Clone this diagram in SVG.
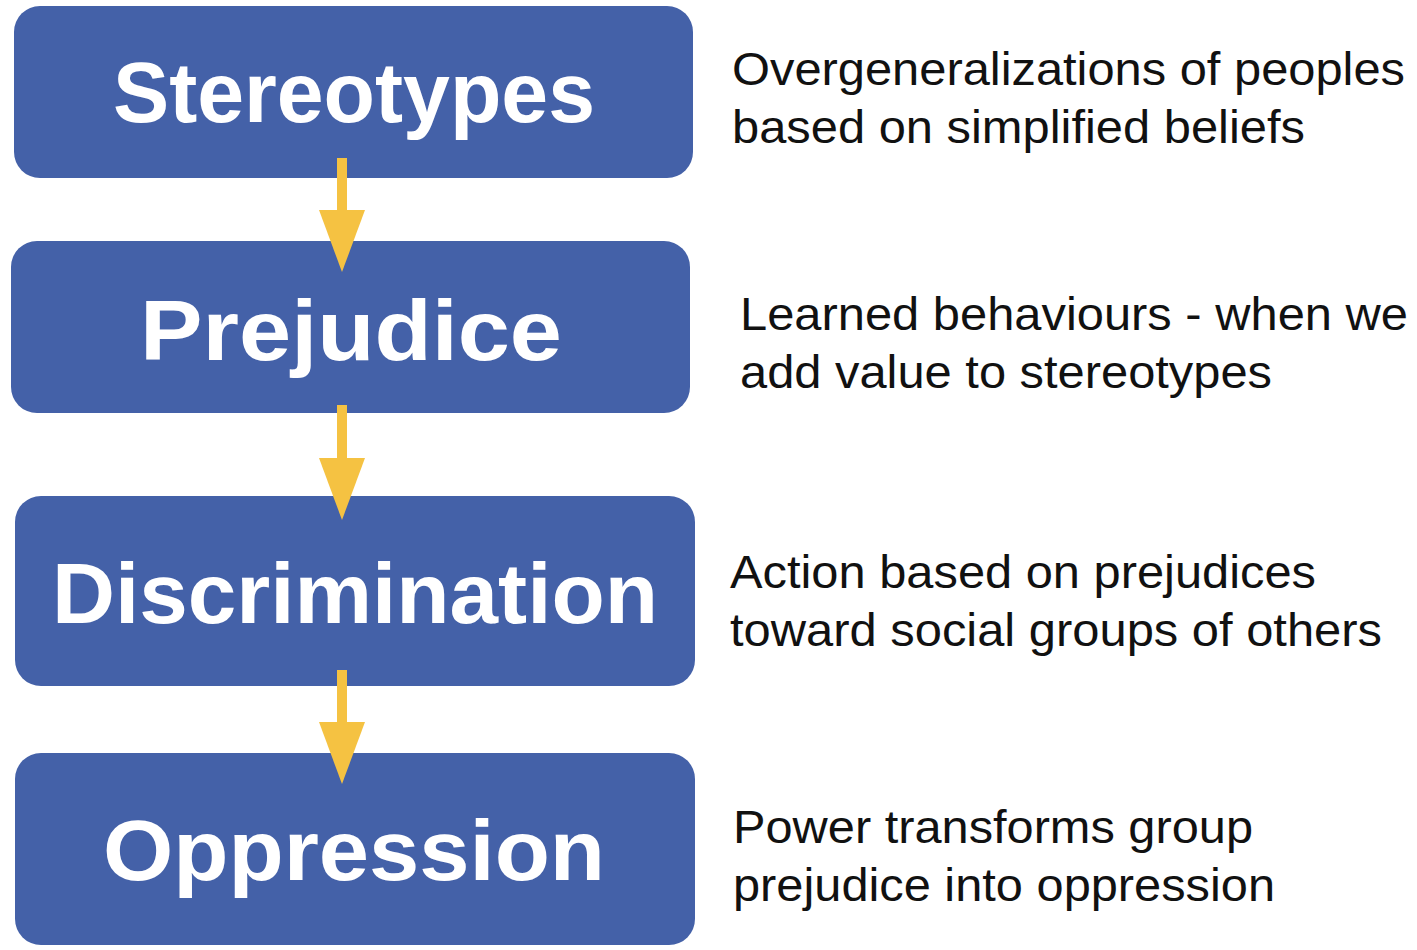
<svg xmlns="http://www.w3.org/2000/svg" width="1417" height="950" viewBox="0 0 1417 950">
<style>
.box{fill:#4461A8;}
.lbl{font-family:"Liberation Sans",Arial,sans-serif;font-weight:bold;fill:#FFFFFF;font-size:86px;text-anchor:middle;}
.desc{font-family:"Liberation Sans",Arial,sans-serif;fill:#111111;font-size:46px;}
.shaft{stroke:#F5C242;stroke-width:10;fill:none;}
.head{fill:#F5C242;}
</style>
<rect width="1417" height="950" fill="#FFFFFF"/>
<g id="node-stereotypes">
<rect class="box" x="14" y="6" width="679" height="172" rx="26"/>
<text class="lbl" x="354" y="122" textLength="482" lengthAdjust="spacingAndGlyphs">Stereotypes</text>
</g>
<g id="node-prejudice">
<rect class="box" x="11" y="241" width="679" height="172" rx="26"/>
<text class="lbl" x="351" y="360" textLength="422" lengthAdjust="spacingAndGlyphs">Prejudice</text>
</g>
<g id="node-discrimination">
<rect class="box" x="15" y="496" width="680" height="190" rx="26"/>
<text class="lbl" x="355" y="623" textLength="606" lengthAdjust="spacingAndGlyphs">Discrimination</text>
</g>
<g id="node-oppression">
<rect class="box" x="15" y="753" width="680" height="192" rx="26"/>
<text class="lbl" x="354" y="880" textLength="502" lengthAdjust="spacingAndGlyphs">Oppression</text>
</g>
<g id="connectors">
<line class="shaft" x1="342" y1="158" x2="342" y2="212"/>
<polygon class="head" points="319,210 365,210 342,272"/>
<line class="shaft" x1="342" y1="405" x2="342" y2="460"/>
<polygon class="head" points="319,458 365,458 342,520"/>
<line class="shaft" x1="342" y1="670" x2="342" y2="724"/>
<polygon class="head" points="319,722 365,722 342,784"/>
</g>
<g id="desc-stereotypes">
<text class="desc" x="732" y="85" textLength="673" lengthAdjust="spacingAndGlyphs">Overgeneralizations of peoples</text>
<text class="desc" x="732" y="143" textLength="573" lengthAdjust="spacingAndGlyphs">based on simplified beliefs</text>
</g>
<g id="desc-prejudice">
<text class="desc" x="740" y="330" textLength="668" lengthAdjust="spacingAndGlyphs">Learned behaviours - when we</text>
<text class="desc" x="740" y="388" textLength="532" lengthAdjust="spacingAndGlyphs">add value to stereotypes</text>
</g>
<g id="desc-discrimination">
<text class="desc" x="730" y="588" textLength="586" lengthAdjust="spacingAndGlyphs">Action based on prejudices</text>
<text class="desc" x="730" y="646" textLength="652" lengthAdjust="spacingAndGlyphs">toward social groups of others</text>
</g>
<g id="desc-oppression">
<text class="desc" x="733" y="843" textLength="520" lengthAdjust="spacingAndGlyphs">Power transforms group</text>
<text class="desc" x="733" y="901" textLength="542" lengthAdjust="spacingAndGlyphs">prejudice into oppression</text>
</g>
</svg>
